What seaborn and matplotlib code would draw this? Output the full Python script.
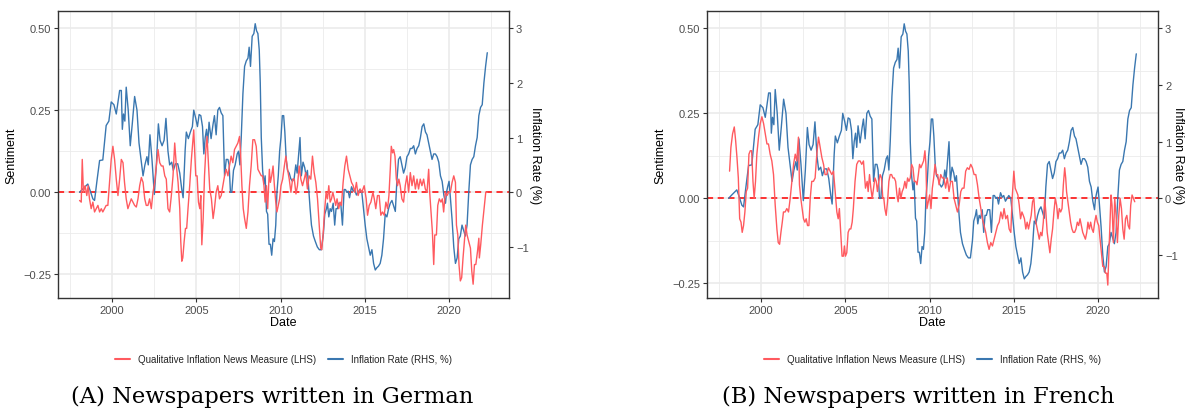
import numpy as np
import pandas as pd
import matplotlib
matplotlib.use("Agg")
import matplotlib.pyplot as plt
import seaborn as sns

# ---------------- data ----------------
blue_year = [1998.06,1998.25,1998.45,1998.55,1998.69,1998.85,1998.95,1999.09,1999.25,1999.44,1999.64,1999.80,1999.94,
             2000.10,2000.24,2000.44,2000.54,2000.60,2000.67,2000.75,2000.83,2000.95,2001.07,2001.19,2001.33,2001.47,
             2001.59,2001.71,2001.83,2001.94,2002.06,2002.14,2002.24,2002.36,2002.50,2002.62,2002.74,2002.84,2002.96,
             2003.08,2003.19,2003.31,2003.41,2003.53,2003.63,2003.75,2003.89,2004.01,2004.13,2004.21,2004.33,2004.40,
             2004.52,2004.64,2004.76,2004.84,2004.96,2005.06,2005.16,2005.26,2005.36,2005.44,2005.52,2005.60,2005.67,
             2005.75,2005.87,2005.99,
             2006.07,2006.17,2006.27,2006.37,2006.47,2006.57,2006.67,2006.77,2006.87,2006.94,2007.02,2007.10,2007.20,
             2007.30,2007.42,2007.50,2007.58,2007.66,2007.76,2007.86,2007.96,2008.06,2008.13,2008.21,2008.31,2008.41,
             2008.49,2008.57,2008.65,2008.73,2008.79,2008.85,2008.93,2009.01,2009.08,2009.16,2009.23,2009.31,2009.39,
             2009.47,2009.55,2009.63,2009.71,2009.78,2009.86,2009.94,2010.02,2010.10,2010.18,2010.25,2010.33,2010.41,
             2010.51,2010.60,2010.70,2010.80,2010.90,2010.98,2011.15,2011.23,2011.33,2011.43,2011.51,2011.59,2011.67,
             2011.75,2011.83,2011.95,2012.06,2012.18,2012.30,2012.42,2012.54,2012.62,2012.72,2012.78,2012.86,2012.94,
             2013.02,2013.12,2013.21,2013.29,2013.37,2013.45,2013.57,2013.67,2013.77,2013.85,2013.93,2014.01,2014.09,
             2014.21,2014.31,2014.40,2014.50,2014.60,2014.70,
             2014.82,2014.92,2015.02,2015.12,2015.22,2015.32,2015.42,2015.52,2015.62,2015.71,2015.81,2015.91,2016.01,
             2016.11,2016.21,2016.31,2016.41,2016.51,2016.61,2016.71,2016.81,2016.90,2017.00,2017.10,2017.20,2017.30,
             2017.40,2017.50,2017.60,2017.70,2017.80,2017.90,2018.00,2018.10,2018.20,2018.30,2018.40,2018.50,2018.60,
             2018.69,2018.79,2018.89,2018.99,2019.09,2019.19,2019.29,2019.39,2019.49,2019.59,2019.69,2019.79,2019.85,
             2019.92,2020.00,2020.08,2020.18,2020.28,2020.38,2020.48,2020.58,2020.67,2020.77,2020.87,2020.97,2021.07,
             2021.17,2021.27,2021.37,2021.47,2021.57,2021.67,2021.77,2021.87,2021.97,2022.07,2022.17,2022.27]
inflation_pct = [0.0,0.06,0.12,0.15,0.03,-0.12,-0.15,0.2,0.58,0.59,1.22,1.3,1.65,
                 1.6,1.43,1.86,1.86,1.15,1.43,1.3,1.92,1.5,0.85,1.25,1.75,1.5,
                 0.9,0.6,0.3,0.5,0.65,0.5,1.05,0.6,-0.04,0.5,1.25,0.95,0.85,
                 0.95,1.35,0.75,0.5,0.55,0.4,0.52,0.52,0.35,0.05,-0.1,0.77,1.1,
                 0.98,1.1,1.2,1.5,1.35,1.2,1.42,1.4,1.2,0.7,1.0,1.15,0.9,
                 1.28,0.98,1.25,
                 1.4,1.05,1.5,1.55,1.45,1.4,0.3,0.6,0.6,0.5,0.0,0.0,0.4,
                 0.5,0.7,0.75,0.5,1.0,1.8,2.3,2.4,2.45,2.65,2.3,2.85,2.9,
                 3.08,2.95,2.9,2.6,2.0,1.0,0.4,0.15,0.3,-0.35,-0.4,-0.95,-0.95,
                 -1.15,-0.85,-0.9,-0.6,0.0,0.3,0.75,1.0,1.4,1.4,1.1,0.6,0.4,
                 0.35,0.25,0.2,0.25,0.5,0.35,1.0,0.3,0.55,0.45,0.3,0.4,0.05,
                 -0.3,-0.6,-0.8,-0.9,-1.0,-1.05,-1.05,-0.75,-0.4,-0.3,-0.2,-0.45,-0.3,
                 -0.35,-0.2,-0.6,-0.3,-0.3,-0.2,-0.2,-0.6,0.05,0.05,0.0,0.02,-0.1,
                 0.1,0.02,0.05,-0.05,0.0,0.05,
                 0.0,-0.3,-0.6,-0.85,-1.0,-1.15,-1.05,-1.3,-1.42,-1.38,-1.35,-1.3,-1.15,
                 -0.85,-0.4,-0.45,-0.3,-0.2,-0.15,-0.25,-0.35,0.2,0.6,0.65,0.5,0.35,
                 0.45,0.65,0.7,0.8,0.8,0.85,0.7,0.8,0.85,1.0,1.2,1.25,1.1,
                 1.05,0.9,0.75,0.6,0.7,0.7,0.65,0.55,0.3,0.2,-0.05,-0.2,0.0,
                 0.1,0.2,-0.1,-0.5,-1.0,-1.3,-1.2,-0.85,-0.8,-0.6,-0.7,-0.8,-0.6,
                 0.0,0.5,0.6,0.65,0.85,1.0,1.4,1.55,1.6,2.0,2.3,2.55]

german_year = [1998.06,1998.16,1998.22,1998.29,1998.39,1998.49,1998.57,1998.65,1998.75,1998.85,1998.95,1999.05,
               1999.15,1999.25,1999.35,1999.44,1999.54,1999.64,1999.74,1999.84,1999.94,2000.04,2000.14,2000.24,
               2000.34,2000.44,2000.54,2000.64,2000.73,2000.83,2000.93,2001.03,2001.13,2001.23,2001.33,2001.43,
               2001.53,2001.63,2001.73,2001.83,2001.93,2002.02,2002.12,2002.22,2002.32,2002.42,2002.52,2002.62,
               2002.72,2002.82,2002.92,2003.02,2003.12,2003.21,2003.31,2003.41,2003.51,2003.61,2003.71,2003.81,
               2003.91,2004.01,2004.07,2004.13,2004.19,2004.27,2004.35,2004.42,2004.50,2004.60,2004.70,2004.78,
               2004.84,2004.90,2004.96,2005.04,2005.12,2005.20,2005.26,2005.32,2005.40,2005.48,2005.56,2005.63,
               2005.71,2005.79,2005.89,2005.99,
               2006.07,2006.17,2006.27,2006.37,2006.47,2006.57,2006.67,2006.77,2006.87,2006.96,2007.06,2007.16,
               2007.26,2007.36,2007.46,2007.56,2007.62,2007.70,2007.78,2007.86,2007.96,2008.06,2008.15,2008.25,
               2008.35,2008.45,2008.55,2008.65,2008.75,2008.85,2008.93,2009.01,2009.08,2009.16,2009.23,2009.33,
               2009.39,2009.47,2009.55,2009.63,2009.71,2009.78,2009.86,2009.94,2010.02,2010.12,2010.22,2010.31,
               2010.41,2010.51,2010.61,2010.71,2010.81,2010.91,2011.00,2011.10,2011.20,2011.30,2011.40,2011.49,
               2011.59,2011.69,2011.79,2011.89,2011.99,2012.09,2012.19,2012.29,2012.38,2012.44,2012.52,2012.62,
               2012.70,2012.78,2012.86,2012.94,2013.02,2013.10,2013.19,2013.27,2013.35,2013.45,2013.53,2013.61,
               2013.71,2013.81,2013.91,2014.01,2014.11,2014.21,2014.31,2014.40,2014.50,2014.60,
               2014.72,2014.82,2014.96,2015.08,2015.16,2015.26,2015.36,2015.48,2015.56,2015.65,2015.75,2015.85,
               2015.95,2016.05,2016.15,2016.25,2016.35,2016.43,2016.51,2016.57,2016.65,2016.71,2016.79,2016.87,
               2016.94,2017.02,2017.10,2017.20,2017.30,2017.40,2017.50,2017.60,2017.70,2017.80,2017.90,2018.00,
               2018.10,2018.19,2018.29,2018.39,2018.49,2018.59,2018.69,2018.79,2018.85,2018.93,2019.01,2019.09,
               2019.15,2019.25,2019.33,2019.42,2019.52,2019.60,2019.68,2019.78,2019.88,2019.98,2020.08,2020.18,
               2020.28,2020.38,2020.44,2020.52,2020.59,2020.67,2020.75,2020.83,2020.91,2020.99,2021.07,2021.17,
               2021.27,2021.35,2021.43,2021.51,2021.59,2021.69,2021.77,2021.80,2021.88,2021.98,2022.08,2022.18,
               2022.27]
german_sent = [-0.025,-0.03,0.1,0.0,0.02,-0.01,0.02,-0.02,-0.05,-0.03,-0.06,-0.05,
               -0.04,-0.06,-0.05,-0.06,-0.05,-0.04,-0.04,0.03,0.1,0.14,0.1,0.04,
               -0.01,0.04,0.1,0.09,0.03,-0.02,-0.05,-0.035,-0.02,-0.03,-0.04,-0.045,
               -0.02,0.02,0.045,0.03,-0.02,-0.04,-0.04,-0.02,-0.05,0.0,0.03,0.08,
               0.13,0.09,0.08,0.08,0.05,0.04,-0.05,-0.06,-0.01,0.05,0.15,0.08,
               0.03,-0.05,-0.15,-0.21,-0.2,-0.15,-0.11,-0.11,-0.05,0.02,0.1,0.15,
               0.19,0.12,0.05,0.05,-0.03,-0.05,-0.01,-0.16,-0.08,0.05,0.13,0.17,
               0.09,0.01,-0.02,-0.08,
               -0.05,0.0,0.02,-0.02,-0.01,0.02,0.05,0.07,0.05,0.08,0.11,0.09,
               0.13,0.14,0.15,0.17,0.12,0.02,-0.05,-0.08,-0.11,-0.06,0.02,0.08,
               0.16,0.16,0.14,0.07,0.06,0.05,0.05,0.02,-0.03,0.02,-0.05,0.07,
               0.03,0.05,0.08,0.02,-0.03,-0.06,-0.04,-0.02,0.02,0.04,0.08,0.11,
               0.07,0.04,0.0,0.04,0.04,-0.005,0.02,0.08,0.04,0.02,0.04,0.06,
               0.01,0.05,0.04,0.11,0.06,0.03,-0.02,-0.1,-0.17,-0.175,-0.13,-0.05,
               0.0,-0.02,0.02,-0.03,-0.02,0.0,-0.02,-0.04,-0.02,-0.05,-0.03,-0.04,
               0.03,0.08,0.11,0.07,0.05,0.03,0.02,0.0,0.03,-0.01,
               0.01,0.0,0.02,-0.02,-0.07,-0.04,-0.03,0.0,-0.02,-0.05,-0.01,-0.01,
               -0.07,-0.06,-0.07,-0.03,-0.05,-0.01,0.07,0.14,0.12,0.13,0.11,0.04,
               0.02,0.04,0.02,-0.02,-0.03,0.02,0.05,0.0,0.06,0.02,0.05,0.01,
               0.04,0.01,0.04,0.02,0.04,0.01,0.0,0.07,0.0,-0.06,-0.12,-0.22,
               -0.13,-0.13,-0.04,-0.02,-0.03,-0.02,-0.06,0.0,-0.01,0.0,0.0,0.03,
               0.05,0.03,-0.1,-0.13,-0.22,-0.27,-0.26,-0.2,-0.15,-0.1,-0.13,-0.15,
               -0.17,-0.24,-0.28,-0.22,-0.22,-0.18,-0.14,-0.2,-0.16,-0.1,-0.05,0.0,
               0.0]

french_year = [1998.12,1998.20,1998.30,1998.40,1998.48,1998.56,1998.64,1998.72,1998.80,1998.87,1998.95,1999.03,
               1999.11,1999.19,1999.27,1999.35,1999.43,1999.51,1999.58,1999.66,1999.74,1999.84,1999.94,2000.04,
               2000.14,2000.24,2000.34,2000.43,2000.53,2000.63,2000.73,2000.83,2000.93,2001.01,2001.09,2001.17,
               2001.25,2001.32,2001.42,2001.52,2001.62,2001.72,2001.82,2001.92,2002.02,2002.11,2002.21,2002.27,
               2002.35,2002.43,2002.51,2002.59,2002.67,2002.75,2002.83,2002.91,2003.00,2003.10,2003.20,2003.30,
               2003.40,2003.50,2003.60,2003.70,2003.79,2003.89,2003.99,2004.09,2004.19,2004.29,2004.39,2004.49,
               2004.57,2004.64,2004.72,2004.80,2004.88,2004.94,2005.00,2005.08,2005.16,2005.24,2005.32,2005.40,
               2005.47,2005.57,2005.67,2005.77,2005.87,2005.97,2006.07,
               2006.19,2006.29,2006.35,2006.43,2006.51,2006.59,2006.67,2006.75,2006.83,2006.90,2006.98,2007.06,
               2007.14,2007.22,2007.28,2007.34,2007.42,2007.50,2007.58,2007.66,2007.74,2007.82,2007.90,2007.98,
               2008.06,2008.13,2008.21,2008.29,2008.37,2008.45,2008.53,2008.61,2008.69,2008.77,2008.85,2008.93,
               2009.01,2009.09,2009.17,2009.25,2009.33,2009.40,2009.48,2009.56,2009.64,2009.72,2009.78,2009.84,
               2009.92,2010.00,2010.08,2010.16,2010.24,2010.32,2010.40,2010.48,2010.56,2010.66,2010.75,2010.85,
               2010.95,2011.05,2011.15,2011.25,2011.35,2011.45,2011.55,2011.65,2011.75,2011.85,2011.94,2012.04,
               2012.14,2012.24,2012.34,2012.44,2012.54,2012.64,2012.74,2012.84,2012.94,2013.04,2013.13,2013.23,
               2013.33,2013.43,2013.53,2013.63,2013.73,2013.83,2013.93,2014.03,2014.13,2014.23,2014.33,2014.42,
               2014.52,2014.62,2014.72,2014.82,
               2014.90,2015.00,2015.08,2015.16,2015.24,2015.32,2015.40,2015.48,2015.56,2015.63,2015.71,2015.79,
               2015.87,2015.95,2016.03,2016.11,2016.19,2016.27,2016.35,2016.43,2016.51,2016.59,2016.67,2016.75,
               2016.83,2016.90,2016.98,2017.06,2017.14,2017.22,2017.30,2017.38,2017.46,2017.54,2017.62,2017.70,
               2017.78,2017.86,2017.94,2018.02,2018.08,2018.13,2018.21,2018.29,2018.37,2018.45,2018.53,2018.61,
               2018.69,2018.77,2018.85,2018.93,2019.01,2019.09,2019.17,2019.25,2019.33,2019.40,2019.48,2019.56,
               2019.64,2019.72,2019.80,2019.88,2019.96,2020.04,2020.12,2020.20,2020.28,2020.36,2020.44,2020.52,
               2020.58,2020.63,2020.71,2020.77,2020.83,2020.91,2020.99,2021.07,2021.15,2021.23,2021.31,2021.39,
               2021.47,2021.55,2021.63,2021.71,2021.79,2021.87,2021.94,2022.02,2022.10,2022.18]
french_sent = [0.08,0.15,0.19,0.21,0.17,0.12,0.06,-0.06,-0.07,-0.1,-0.08,-0.04,
               0.02,0.03,0.13,0.14,0.14,0.05,0.0,0.05,0.13,0.18,0.22,0.24,
               0.22,0.19,0.16,0.16,0.13,0.11,0.07,-0.02,-0.09,-0.13,-0.135,-0.1,
               -0.07,-0.04,-0.04,-0.03,-0.04,0.0,0.05,0.1,0.13,0.11,0.18,0.04,
               0.0,-0.03,-0.06,-0.07,-0.06,-0.08,-0.08,0.0,0.05,0.05,0.06,0.13,
               0.18,0.15,0.12,0.1,0.07,0.07,0.09,0.08,0.07,0.08,0.02,-0.04,
               -0.06,-0.03,-0.1,-0.17,-0.17,-0.14,-0.17,-0.16,-0.1,-0.09,-0.09,-0.07,
               -0.03,0.05,0.1,0.11,0.11,0.1,0.11,
               0.03,0.05,0.02,0.07,0.03,0.0,0.03,0.06,0.05,0.02,0.05,0.07,
               0.06,0.0,0.0,-0.03,-0.05,-0.01,0.05,0.07,0.07,0.06,0.06,0.05,
               0.01,-0.01,0.03,0.0,0.02,0.03,0.05,0.03,0.06,0.05,0.06,0.1,
               0.09,0.05,0.05,0.04,0.07,0.1,0.09,0.1,0.11,0.14,0.1,-0.03,
               -0.01,0.01,-0.03,0.03,0.06,0.1,0.07,0.07,0.04,0.07,0.06,0.06,
               0.03,0.06,0.02,0.05,0.05,0.0,-0.02,-0.04,-0.02,0.02,0.03,0.03,
               0.08,0.09,0.085,0.1,0.09,0.07,0.07,0.04,0.0,-0.03,-0.06,-0.08,
               -0.1,-0.13,-0.15,-0.13,-0.14,-0.12,-0.1,-0.08,-0.07,-0.04,-0.06,-0.03,
               -0.06,-0.05,-0.09,-0.1,
               0.0,0.08,0.03,0.02,0.01,-0.02,-0.06,-0.04,-0.05,-0.06,-0.09,-0.07,
               -0.09,-0.07,-0.05,-0.01,0.0,-0.06,-0.08,-0.1,-0.12,-0.1,-0.11,-0.07,
               0.0,-0.04,-0.1,-0.13,-0.16,-0.12,-0.09,-0.04,0.0,-0.02,-0.06,-0.03,
               -0.04,-0.03,0.04,0.09,0.06,0.02,-0.01,-0.04,-0.07,-0.09,-0.1,-0.1,
               -0.09,-0.07,-0.08,-0.06,-0.08,-0.1,-0.11,-0.12,-0.1,-0.07,-0.09,-0.07,
               -0.09,-0.1,-0.07,-0.05,-0.07,-0.08,-0.12,-0.16,-0.2,-0.2,-0.22,-0.22,
               -0.255,-0.18,-0.07,0.01,-0.02,-0.13,0.0,-0.05,-0.13,-0.05,0.0,-0.03,
               -0.09,-0.12,-0.06,-0.05,-0.08,-0.09,-0.02,0.01,0.0,-0.01]

panels = [
    ("(A) Newspapers written in German", german_year, german_sent, (-0.322, 0.552)),
    ("(B) Newspapers written in French", french_year, french_sent, (-0.293, 0.551)),
]
SCALE = 6.0  # inflation (%) = 6 x sentiment on the secondary axis

# ---------------- style ----------------
sns.set_theme(style="white")
plt.rcParams['font.family'] = ['Liberation Sans', 'DejaVu Sans']

RED = "#FF5A5F"
BLUE = "#3A77B0"
GRID = "#EBEBEB"
TXT = "#4D4D4D"

W, H = 1186, 410
fig = plt.figure(figsize=(W / 100, H / 100), dpi=100)
axes_rect = [(58/W, 1-299/H, 451/W, 287/H),
             (707/W, 1-299/H, 451/W, 287/H)]
caption_x = [272/W, 918/W]
right_label_x = [535/W, 1178/W]

for i, (cap, yrs, sent, ylim) in enumerate(panels):
    ax = fig.add_axes(axes_rect[i])
    red_df = pd.DataFrame({"Date": yrs, "Sentiment": sent})
    blue_df = pd.DataFrame({"Date": blue_year, "Sentiment": np.array(inflation_pct) / SCALE})
    ax.axhline(0, color="#FF0000", lw=1.1, ls=(0, (4, 3)), zorder=1)
    sns.lineplot(data=red_df, x="Date", y="Sentiment", ax=ax, color=RED, lw=1.0,
                 label="Qualitative Inflation News Measure (LHS)", zorder=3)
    sns.lineplot(data=blue_df, x="Date", y="Sentiment", ax=ax, color=BLUE, lw=1.0,
                 label="Inflation Rate (RHS, %)", zorder=2)
    ax.set_xlim(1996.78, 2023.56)
    ax.set_ylim(*ylim)
    ax.set_xticks([2000, 2005, 2010, 2015, 2020])
    ax.set_xticks(np.arange(1997.5, 2023.6, 5), minor=True)
    ax.set_yticks([-0.25, 0.0, 0.25, 0.5])
    ax.set_yticks([-0.125, 0.125, 0.375], minor=True)
    ax.set_yticklabels(["\u22120.25", "0.00", "0.25", "0.50"])
    ax.grid(True, which="major", color=GRID, lw=1.2, zorder=0)
    ax.grid(True, which="minor", color=GRID, lw=0.6, zorder=0)
    ax.set_axisbelow(True)
    for s in ax.spines.values():
        s.set_color("#333333")
        s.set_linewidth(1.0)
    ax.tick_params(axis="both", which="major", length=3, width=0.8, color="#333333",
                   labelsize=8, labelcolor=TXT, pad=2, left=True, bottom=True)
    ax.tick_params(axis="both", which="minor", length=0)
    ax.set_xlabel("Date", fontsize=9, color="black", labelpad=1)
    ax.set_ylabel("Sentiment", fontsize=9, color="black", labelpad=4)

    sec = ax.secondary_yaxis("right", functions=(lambda s: s * SCALE, lambda v: v / SCALE))
    sec.set_yticks([-1, 0, 1, 2, 3])
    sec.tick_params(length=3, width=0.8, color="#333333", labelsize=8, labelcolor=TXT, pad=2)
    sec.spines["right"].set_visible(False)
    fig.text(right_label_x[i], 1 - 155.5/H, "Inflation Rate (%)", rotation=270,
             ha="center", va="center", fontsize=9, color="black")

    leg = ax.legend(loc="center", bbox_to_anchor=(0.5, -0.213), ncol=2, frameon=False,
                    fontsize=7, handlelength=1.6, handletextpad=0.8, columnspacing=1.2)
    for line in leg.get_lines():
        line.set_linewidth(1.5)

    fig.text(caption_x[i], 1 - 397/H, cap, ha="center", va="center",
             fontsize=16.3, family=["DejaVu Serif"], color="black")

fig.savefig("out.png", dpi=100)
